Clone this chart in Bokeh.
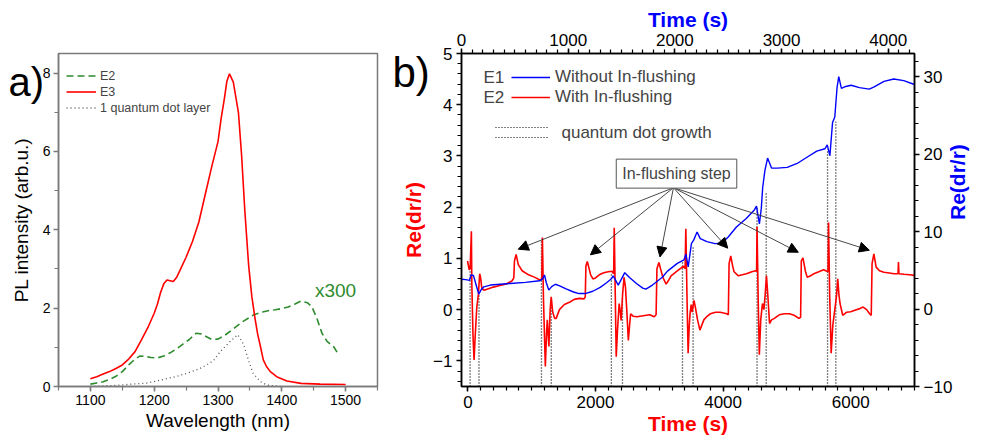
import math
from bokeh.plotting import figure
from bokeh.layouts import row
from bokeh.models import (Range1d, LinearAxis, SingleIntervalTicker, Label, Legend,
                          LegendItem, Arrow, NormalHead, ColumnDataSource, Title)
from bokeh.embed import file_html
from bokeh.resources import INLINE

FONT = "Liberation Sans"
RED = "#ff0000"
BLUE = "#0000ff"
GREEN = "#2e8b2e"
GRAY = "#555555"

# ---------------- panel a data (PL spectra) ----------------
wl_e3 = [1100, 1110, 1120, 1130, 1140, 1150, 1160, 1170, 1180, 1190, 1200, 1205, 1210,
         1215, 1220, 1225, 1230, 1235, 1240, 1250, 1260, 1270, 1280, 1290, 1300, 1305,
         1310, 1314, 1318, 1324, 1332, 1337, 1342, 1348, 1353, 1358, 1362, 1366, 1371,
         1376, 1382, 1392, 1408, 1430, 1460, 1500]
e3 = [0.2, 0.25, 0.32, 0.38, 0.46, 0.55, 0.7, 0.89, 1.19, 1.5, 1.87, 2.1, 2.4,
      2.62, 2.72, 2.7, 2.68, 2.78, 2.95, 3.3, 3.7, 4.2, 4.9, 5.6, 6.25, 6.85,
      7.35, 7.8, 7.98, 7.77, 7.0, 5.9, 4.5, 3.1, 2.3, 1.74, 1.35, 1.06, 0.68,
      0.51, 0.38, 0.25, 0.14, 0.08, 0.06, 0.05]
wl_e2 = [1100, 1110, 1120, 1130, 1140, 1150, 1160, 1170, 1178, 1185, 1195, 1205, 1215,
         1225, 1235, 1245, 1255, 1266, 1274, 1282, 1290, 1300, 1310, 1320, 1330, 1340,
         1356, 1370, 1380, 1390, 1400, 1410, 1420, 1430, 1440, 1447, 1455, 1463, 1471,
         1481, 1490]
e2 = [0.06, 0.09, 0.12, 0.18, 0.26, 0.38, 0.55, 0.7, 0.78, 0.77, 0.74, 0.73, 0.78,
      0.86, 0.96, 1.08, 1.2, 1.36, 1.34, 1.27, 1.2, 1.21, 1.3, 1.42, 1.55, 1.67,
      1.83, 1.9, 1.94, 1.96, 1.99, 2.03, 2.1, 2.18, 2.14, 2.04, 1.74, 1.36, 1.15,
      1.02, 0.79]
wl_qd = [1100, 1140, 1190, 1220, 1235, 1250, 1272, 1285, 1293, 1303, 1319, 1331, 1340,
         1348, 1355, 1366, 1376, 1390, 1400]
qd = [0.0, 0.03, 0.09, 0.2, 0.26, 0.33, 0.46, 0.58, 0.66, 0.88, 1.15, 1.32, 1.08,
      0.66, 0.34, 0.13, 0.04, 0.01, 0.0]

# ---------------- panel b data (reflectance transients) ----------------
red_t = [-5, 20, 35, 55, 62, 80, 97, 115, 140, 165,
         185, 200, 218, 250, 300, 400, 500, 600, 690, 720,
         730, 756, 790, 850, 950, 1050, 1130, 1158, 1168, 1185,
         1214, 1235, 1245, 1270, 1290, 1306, 1330, 1360, 1384, 1435,
         1512, 1600, 1667, 1750, 1821, 1840, 1850, 1872, 1900, 1924,
         1960, 2000, 2060, 2130, 2200, 2258, 2285, 2294, 2310, 2325,
         2345, 2371, 2385, 2402, 2425, 2448, 2470, 2490, 2515, 2535,
         2551, 2593, 2650, 2750, 2850, 2920, 2950, 2963, 2994, 3030,
         3056, 3107, 3150, 3185, 3287, 3380, 3405, 3416, 3435, 3452,
         3470, 3482, 3500, 3515, 3544, 3565, 3600, 3637, 3698, 3750,
         3801, 3880, 3956, 4058, 4082, 4094, 4120, 4150, 4172, 4239,
         4300, 4367, 4450, 4511, 4525, 4532, 4550, 4568, 4590, 4617,
         4640, 4660, 4680, 4700, 4728, 4760, 4804, 4880, 4958, 5040,
         5113, 5190, 5215, 5226, 5252, 5290, 5319, 5370, 5422, 5500,
         5576, 5627, 5645, 5653, 5670, 5694, 5720, 5756, 5780, 5797,
         5815, 5833, 5875, 5937, 6000, 6065, 6142, 6194, 6250, 6296,
         6322, 6335, 6363, 6399, 6451, 6520, 6580, 6680, 6742, 6749,
         6756, 6836, 6920, 7000]
red_v = [0.95, 0.78, 0.8, 1.53, 0.5, -0.5, -0.98, -0.5, 0.05, 0.3,
         0.7, 0.62, 0.42, 0.38, 0.4, 0.44, 0.47, 0.5, 0.56, 0.62,
         0.95, 1.08, 0.88, 0.76, 0.68, 0.63, 0.58, 0.6, 1.41, 0.2,
         -1.11, -0.4, -0.2, -0.72, 0.0, 0.25, -0.05, -0.17, -0.17, 0.0,
         0.1, 0.15, 0.2, 0.22, 0.21, 0.25, 0.85, 0.94, 0.8, 0.68,
         0.6, 0.62, 0.68, 0.72, 0.74, 0.75, 0.7, 1.6, 0.3, -0.92,
         -0.4, 0.12, 0.0, -0.21, 0.3, 0.63, 0.44, 0.0, -0.6, -0.3,
         -0.08, -0.13, -0.14, -0.12, -0.1, -0.14, -0.1, 0.8, 0.92, 0.75,
         0.63, 0.5, 0.58, 0.66, 0.76, 0.85, 0.8, 1.58, 0.2, -0.85,
         -0.3, -0.08, 0.1, -0.05, 0.18, 0.05, -0.2, -0.4, -0.2, -0.13,
         -0.08, -0.05, -0.05, -0.08, -0.1, 0.9, 1.05, 0.85, 0.74, 0.66,
         0.68, 0.7, 0.74, 0.76, 0.75, 1.62, 0.2, -0.88, -0.2, 0.12,
         0.0, 0.3, 0.66, 0.3, -0.27, -0.2, -0.17, -0.1, -0.08, -0.08,
         -0.11, -0.17, -0.15, 0.95, 1.01, 0.75, 0.63, 0.66, 0.7, 0.74,
         0.78, 0.75, 0.74, 1.7, 0.3, -0.85, -0.3, 0.05, 0.3, 0.6,
         0.3, 0.12, -0.11, -0.05, -0.04, -0.01, 0.02, 0.05, 0.0, -0.08,
         -0.11, 0.9, 1.09, 0.83, 0.76, 0.73, 0.72, 0.7, 0.7, 0.93,
         0.7, 0.69, 0.68, 0.67]
blue_t = [0, 40, 75, 90, 112, 135, 162, 185, 209, 271,
          455, 600, 732, 760, 778, 795, 818, 845, 880, 920,
          980, 1050, 1101, 1160, 1230, 1300, 1360, 1408, 1421, 1445,
          1469, 1500, 1530, 1580, 1640, 1699, 1728, 1790, 1882, 1931,
          2023, 2085, 2103, 2125, 2155, 2176, 2208, 2238, 2300, 2376,
          2438, 2500, 2577, 2669, 2745, 2765, 2792, 2810, 2823, 2844,
          2869, 2906, 2961, 3053, 3146, 3238, 3330, 3407, 3428, 3453,
          3478, 3499, 3520, 3536, 3561, 3591, 3653, 3730, 3822, 3868,
          3960, 4052, 4145, 4246]
blue_v = [3.85, 3.8, 3.7, 4.4, 4.35, 3.2, 1.94, 2.5, 2.87, 3.1,
          3.3, 3.45, 3.65, 3.9, 4.4, 3.4, 2.45, 2.9, 3.2, 3.0,
          2.6, 2.2, 2.0, 2.0, 2.3, 2.8, 3.4, 3.95, 4.3, 3.7,
          3.1, 3.9, 4.7, 4.0, 3.3, 2.7, 2.57, 3.1, 4.1, 4.9,
          5.9, 6.34, 7.1, 5.44, 8.45, 8.9, 9.95, 9.1, 8.7, 8.45,
          8.5, 9.3, 10.6, 11.7, 12.8, 13.3, 11.0, 13.0, 15.7, 17.9,
          19.5, 18.2, 18.2, 18.3, 18.8, 19.6, 20.4, 20.7, 21.2, 19.8,
          24.1, 24.8, 28.6, 30.0, 28.5, 28.7, 28.9, 28.6, 28.4, 28.7,
          29.4, 29.7, 29.5, 29.0]
qd_on = [35, 1153, 2249, 3364, 4532, 5637]
qd_off = [174, 1307, 2423, 3530, 4676, 5767]
qd_on_top = [0.76, 1.35, 0.70, 0.92, 2.0, 3.13]
qd_off_top = [0.32, 0.18, 0.25, 1.25, 2.3, 3.67]
step_t = [790, 1920, 3011, 4073, 5179, 6292]
step_v = [1.18, 1.07, 1.03, 1.2, 1.12, 1.16]
callout_t, callout_v = 3270, 2.655
origin_t, origin_v = 3222, 2.38


def style_axis(ax, color="black", width=1.5, size="17px", out=6, standoff=4):
    ax.axis_line_color = color
    ax.axis_line_width = width
    ax.major_tick_line_color = color
    ax.major_tick_line_width = width
    ax.minor_tick_line_color = color
    ax.minor_tick_line_width = 1.2
    ax.major_tick_in = 0
    ax.major_tick_out = out
    ax.minor_tick_in = 0
    ax.minor_tick_out = 4
    ax.major_label_text_font = FONT
    ax.major_label_text_font_size = size
    ax.major_label_text_color = "black"
    ax.major_label_standoff = standoff
    ax.axis_label_text_font = FONT
    ax.axis_label_text_font_style = "normal"


# ================= panel a =================
pa = figure(width=390, height=440, x_range=Range1d(1050, 1550), y_range=Range1d(0, 8.5),
            output_backend="svg", toolbar_location=None,
            min_border_left=58, min_border_right=13, min_border_top=51, min_border_bottom=54)
pa.grid.visible = False
pa.outline_line_color = "#7a7a7a"
pa.outline_line_width = 1.5
a_x = pa.below[0]
a_y = pa.left[0]
a_x.ticker = SingleIntervalTicker(interval=100, num_minor_ticks=2)
a_y.ticker = SingleIntervalTicker(interval=2, num_minor_ticks=2)
for ax in [a_x, a_y]:
    style_axis(ax, color="#7a7a7a", size="14px", out=5, standoff=3)
    ax.axis_label_text_font_size = "19px"
    ax.axis_label_text_color = "black"
a_x.axis_label = "Wavelength (nm)"
a_y.axis_label = "PL intensity (arb.u.)"
a_x.axis_label_standoff = 2
a_y.axis_label_standoff = 8

r_e2 = pa.line(wl_e2, e2, line_color=GREEN, line_width=1.6, line_dash="7 4")
r_e3 = pa.line(wl_e3, e3, line_color=RED, line_width=1.6)
r_qd = pa.line(wl_qd, qd, line_color=GRAY, line_width=1.3, line_dash="1 3")

leg_a = Legend(items=[LegendItem(label="E2", renderers=[r_e2]),
                      LegendItem(label="E3", renderers=[r_e3]),
                      LegendItem(label="1 quantum dot layer", renderers=[r_qd])],
               location=(8, 271), padding=0, margin=0, spacing=1,
               label_height=15, glyph_height=15, glyph_width=30, label_standoff=4,
               label_text_font=FONT, label_text_font_size="12.5px",
               border_line_alpha=0, background_fill_alpha=0)
pa.add_layout(leg_a)
pa.add_layout(Label(x=1452, y=2.45, text="x300", text_color=GREEN, text_font=FONT,
                    text_font_size="19px", text_baseline="middle"))
# panel letter, kept in the top side panel so it is not clipped by the frame
title_a = Title(text="a)", align="left", vertical_align="bottom", offset=-50, standoff=-101,
                text_font=FONT, text_font_size="40px", text_font_style="normal",
                text_color="black")
pa.above = [title_a]

# ================= panel b =================
pb = figure(width=593, height=440, x_range=Range1d(-100, 7000), y_range=Range1d(-1.5, 5),
            output_backend="svg", toolbar_location=None,
            min_border_left=71, min_border_right=62, min_border_top=53, min_border_bottom=53)
pb.grid.visible = False
pb.outline_line_color = "black"
pb.outline_line_width = 1.5
pb.extra_x_ranges = {"top": Range1d(0, 4246)}
pb.extra_y_ranges = {"right": Range1d(-10, 33)}
bottom_ax = pb.below[0]
left_ax = pb.left[0]
bottom_ax.ticker = SingleIntervalTicker(interval=2000, num_minor_ticks=10)
left_ax.ticker = SingleIntervalTicker(interval=1, num_minor_ticks=5)
top_ax = LinearAxis(x_range_name="top",
                    ticker=SingleIntervalTicker(interval=1000, num_minor_ticks=10))
right_ax = LinearAxis(y_range_name="right",
                      ticker=SingleIntervalTicker(interval=10, num_minor_ticks=5))
for ax in [bottom_ax, left_ax, top_ax, right_ax]:
    style_axis(ax, color="black", size="17px", out=5, standoff=4)
    ax.axis_label_text_font_style = "bold"
    ax.axis_label_text_font_size = "21px"
top_ax.axis_label = "Time (s)"
top_ax.axis_label_text_color = BLUE
top_ax.axis_label_standoff = 0
top_ax.major_label_standoff = 3
left_ax.axis_label = "Re(dr/r)"
left_ax.axis_label_text_color = RED
left_ax.axis_label_standoff = 5
right_ax.axis_label = "Re(dr/r)"
right_ax.axis_label_text_color = BLUE
right_ax.axis_label_standoff = 2
if "axis_label_orientation" in right_ax.properties():
    right_ax.axis_label_orientation = math.pi / 2

title_b = Title(text="b)", align="left", vertical_align="bottom", offset=-69, standoff=-84,
                text_font=FONT, text_font_size="42px", text_font_style="normal",
                text_color="black")
time_bottom = Title(text="Time (s)", align="center", vertical_align="middle", offset=-21,
                    standoff=0, text_font=FONT, text_font_size="21px",
                    text_font_style="bold", text_color=RED)
pb.above = [title_b, top_ax]
pb.below = [bottom_ax, time_bottom]
pb.add_layout(right_ax, "right")

# quantum dot growth markers
ybot = pb.y_range.start
pb.segment(x0=qd_on, y0=[ybot] * len(qd_on), x1=qd_on, y1=qd_on_top,
           line_color="black", line_width=1.3, line_dash="1 2")
pb.segment(x0=qd_off, y0=[ybot] * len(qd_off), x1=qd_off, y1=qd_off_top,
           line_color="black", line_width=1.3, line_dash="1 2")

r_red = pb.line(red_t, red_v, line_color=RED, line_width=1.6)
r_blue = pb.line(blue_t, blue_v, line_color=BLUE, line_width=1.4,
                 x_range_name="top", y_range_name="right")

# call-out arrows
arrow_src = ColumnDataSource(dict(xs=[origin_t] * len(step_t), ys=[origin_v] * len(step_t),
                                  xe=step_t, ye=step_v))
pb.add_layout(Arrow(end=NormalHead(size=10, fill_color="black", line_color="black"),
                    x_start="xs", y_start="ys", x_end="xe", y_end="ye", source=arrow_src,
                    line_color="#333333", line_width=0.9))
pb.add_layout(Label(x=callout_t, y=callout_v, text="In-flushing step", text_font=FONT,
                    text_font_size="16px", text_align="center", text_baseline="middle",
                    border_line_color="#555555", border_line_width=1,
                    background_fill_color="white", padding=6))

# legend
leg_b = Legend(items=[LegendItem(label="Without In-flushing", renderers=[r_blue]),
                      LegendItem(label="With In-flushing", renderers=[r_red])],
               location=(50, 279), padding=0, margin=0, spacing=0,
               label_height=20, glyph_height=20, glyph_width=39, label_standoff=5,
               label_text_font=FONT, label_text_font_size="17px",
               border_line_alpha=0, background_fill_alpha=0)
pb.add_layout(leg_b)
for txt, yy in [("E1", 309.4), ("E2", 289.4)]:
    pb.add_layout(Label(x=22, y=yy, x_units="screen", y_units="screen", text=txt,
                        text_font=FONT, text_font_size="17px", text_baseline="middle"))
for yy in [259, 249]:
    pb.add_layout(Arrow(end=None, start=None, start_units="screen", end_units="screen",
                        x_start=34, y_start=yy, x_end=87, y_end=yy,
                        line_color="black", line_width=1.2, line_dash="1 2"))
pb.add_layout(Label(x=100, y=254, x_units="screen", y_units="screen",
                    text="quantum dot growth", text_font=FONT, text_font_size="17px",
                    text_baseline="middle"))

layout = row(pa, pb)
open("out.html", "w").write(file_html(layout, INLINE))
